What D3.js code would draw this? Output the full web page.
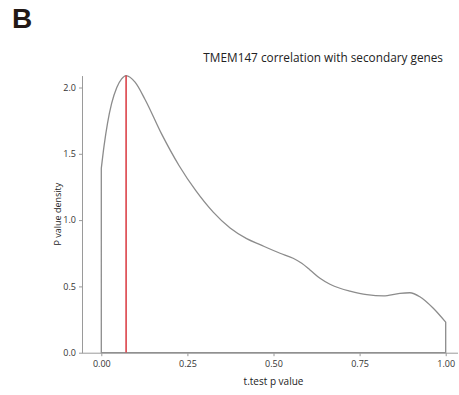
<!DOCTYPE html>
<html>
<head>
<meta charset="utf-8">
<script src="https://cdn.jsdelivr.net/npm/d3@7"></script>
<style>
  html, body { margin: 0; padding: 0; background: #fff; }
  svg { display: block; font-family: "Open Sans", "Noto Sans", sans-serif; }
</style>
</head>
<body>
<div id="chart"></div>
<script>
// density of t.test p values
const pValues = [0, 0.008, 0.018, 0.03, 0.045, 0.059, 0.072, 0.098, 0.127, 0.175, 0.226,
  0.275, 0.325, 0.374, 0.422, 0.461, 0.519, 0.557, 0.582, 0.606, 0.635, 0.664, 0.693,
  0.722, 0.771, 0.819, 0.867, 0.896, 0.925, 0.964, 1.0];
const densities = [1.39, 1.56, 1.73, 1.88, 2.0, 2.065, 2.09, 2.04, 1.91, 1.65, 1.41,
  1.22, 1.06, 0.94, 0.86, 0.815, 0.75, 0.712, 0.674, 0.624, 0.561, 0.516, 0.486,
  0.465, 0.438, 0.428, 0.448, 0.452, 0.422, 0.335, 0.23];
const markerValue = [0.072];
const xTicks = [0, 0.25, 0.5, 0.75, 1];
const yTicks = [0, 0.5, 1, 1.5, 2];
const panelLabel = "B";
const title = "TMEM147 correlation with secondary genes";
const xTitle = "t.test p value";
const yTitle = "P value density";

const width = 459;
const height = 395;

const x = d3.scaleLinear().domain([0, 1]).range([101.3, 445.7]);
const y = d3.scaleLinear().domain([0, d3.max(densities)]).range([352.7, 352.7 - 132.6 * d3.max(densities)]);
const xMin = x.invert(82);
const xMax = x.invert(458);

const svg = d3.select("#chart").append("svg")
  .attr("width", width)
  .attr("height", height);

svg.append("text")
  .attr("x", 12)
  .attr("y", 28)
  .attr("font-family", "Liberation Sans, Arial, sans-serif")
  .attr("font-weight", "bold")
  .attr("font-size", 28)
  .attr("fill", "#231815")
  .text(panelLabel);

svg.append("text")
  .attr("x", 443)
  .attr("y", 62)
  .attr("text-anchor", "end")
  .attr("font-size", 11.8)
  .attr("fill", "#222")
  .text(title);

// density area outline
const data = pValues.map((p, i) => ({ p, d: densities[i] }));
const line = d3.line()
  .x((v) => x(v.p))
  .y((v) => y(v.d))
  .curve(d3.curveMonotoneX);
const first = data[0];
const last = data[data.length - 1];
const outline = line(data)
  + `L${x(last.p)},${y(0)}L${x(first.p)},${y(0)}Z`;

svg.append("path")
  .attr("d", outline)
  .attr("fill", "none")
  .attr("stroke", "#8c8c8c")
  .attr("stroke-width", 1.3);

// marker line at the mode
svg.selectAll(".marker")
  .data(markerValue)
  .join("line")
  .attr("class", "marker")
  .attr("x1", (d) => x(d))
  .attr("x2", (d) => x(d))
  .attr("y1", y(0))
  .attr("y2", y(d3.max(densities)))
  .attr("stroke", "#d9363e")
  .attr("stroke-width", 1.5);

// axes
const gx = svg.append("g")
  .attr("transform", `translate(0,${y(0) + 0.5})`)
  .call(d3.axisBottom(x).tickValues(xTicks).tickFormat(d3.format(".2f")).tickSize(3).tickPadding(4));
gx.select(".domain").remove();
gx.append("line")
  .attr("x1", x(xMin))
  .attr("x2", x(xMax))
  .attr("stroke", "#9a9a9a");

const gy = svg.append("g")
  .attr("transform", `translate(${x(xMin)},0)`)
  .call(d3.axisLeft(y).tickValues(yTicks).tickFormat(d3.format(".1f")).tickSize(3).tickPadding(3).tickSizeOuter(0));
gy.select(".domain").attr("stroke", "#9a9a9a");

svg.selectAll(".tick line").attr("stroke", "#9a9a9a");
svg.selectAll(".tick text")
  .attr("font-family", "Open Sans, sans-serif")
  .attr("font-size", 9)
  .attr("fill", "#333");

svg.append("text")
  .attr("x", (x(0) + x(1)) / 2)
  .attr("y", 385)
  .attr("text-anchor", "middle")
  .attr("font-size", 10)
  .attr("fill", "#222")
  .text(xTitle);

svg.append("text")
  .attr("transform", `translate(61,${(y(0) + y(d3.max(densities))) / 2}) rotate(-90)`)
  .attr("text-anchor", "middle")
  .attr("font-size", 9)
  .attr("fill", "#222")
  .text(yTitle);
</script>
</body>
</html>
